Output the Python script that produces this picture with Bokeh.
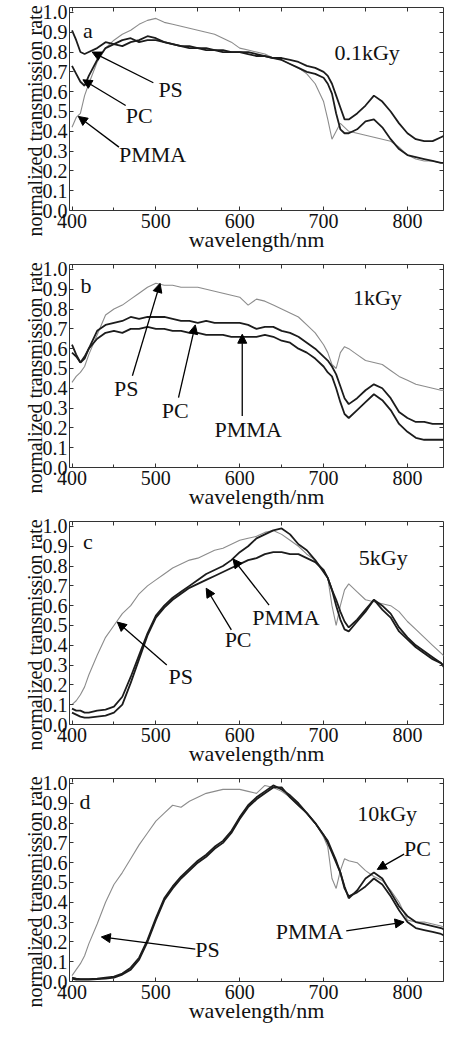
from bokeh.plotting import figure
from bokeh.layouts import column
from bokeh.models import Range1d, FixedTicker, LinearAxis, Arrow, NormalHead, Label, Title, PrintfTickFormatter
from bokeh.embed import file_html
from bokeh.resources import INLINE

# ---------------- data ----------------
wavelength = [400, 405, 410, 415, 420, 430, 440, 450, 460, 470, 480, 490, 500, 510, 520, 530,
              540, 550, 560, 570, 580, 590, 600, 610, 620, 630, 640, 650, 660, 670, 680, 690,
              700, 705, 710, 715, 720, 725, 730, 740, 750, 760, 770, 780, 790, 800, 810, 820,
              830, 840, 845]

# panel a: 0.1 kGy
a_PS = [0.91, 0.86, 0.80, 0.79, 0.80, 0.82, 0.85, 0.84, 0.86, 0.87, 0.85, 0.86, 0.86, 0.85, 0.84, 0.83,
        0.82, 0.82, 0.81, 0.81, 0.80, 0.80, 0.80, 0.80, 0.79, 0.78, 0.77, 0.77, 0.76, 0.75, 0.73, 0.72,
        0.70, 0.68, 0.64, 0.58, 0.52, 0.46, 0.46, 0.49, 0.53, 0.58, 0.55, 0.50, 0.44, 0.39, 0.36, 0.35,
        0.35, 0.37, 0.38]
a_PC = [0.73, 0.69, 0.65, 0.63, 0.68, 0.76, 0.82, 0.84, 0.83, 0.85, 0.86, 0.88, 0.87, 0.85, 0.84, 0.83,
        0.83, 0.82, 0.82, 0.81, 0.81, 0.80, 0.80, 0.79, 0.78, 0.78, 0.77, 0.76, 0.74, 0.72, 0.70, 0.69,
        0.67, 0.64, 0.59, 0.49, 0.41, 0.39, 0.39, 0.41, 0.45, 0.46, 0.42, 0.36, 0.31, 0.28, 0.27, 0.26,
        0.25, 0.24, 0.24]
a_PMMA = [0.42, 0.47, 0.49, 0.58, 0.64, 0.75, 0.82, 0.86, 0.89, 0.91, 0.94, 0.96, 0.97, 0.95, 0.94, 0.93,
          0.92, 0.91, 0.90, 0.89, 0.87, 0.85, 0.82, 0.81, 0.80, 0.79, 0.77, 0.76, 0.74, 0.72, 0.69, 0.64,
          0.55, 0.46, 0.36, 0.40, 0.44, 0.42, 0.40, 0.39, 0.38, 0.37, 0.36, 0.35, 0.32, 0.28, 0.26, 0.25,
          0.25, 0.24, 0.24]

# panel b: 1 kGy
b_PS = [0.43, 0.46, 0.48, 0.51, 0.57, 0.67, 0.77, 0.80, 0.82, 0.85, 0.88, 0.91, 0.93, 0.92, 0.92, 0.91,
        0.91, 0.91, 0.90, 0.89, 0.88, 0.87, 0.86, 0.82, 0.85, 0.84, 0.82, 0.80, 0.78, 0.76, 0.72, 0.68,
        0.62, 0.58, 0.52, 0.50, 0.58, 0.61, 0.60, 0.57, 0.54, 0.53, 0.52, 0.49, 0.46, 0.44, 0.42, 0.41,
        0.40, 0.39, 0.39]
b_PC = [0.62, 0.57, 0.53, 0.55, 0.60, 0.69, 0.72, 0.73, 0.74, 0.76, 0.75, 0.76, 0.76, 0.76, 0.75, 0.74,
        0.74, 0.73, 0.74, 0.73, 0.73, 0.73, 0.73, 0.72, 0.70, 0.71, 0.71, 0.69, 0.68, 0.66, 0.63, 0.60,
        0.56, 0.54, 0.51, 0.47, 0.41, 0.35, 0.32, 0.35, 0.39, 0.42, 0.40, 0.35, 0.28, 0.25, 0.23, 0.23,
        0.22, 0.22, 0.22]
b_PMMA = [0.58, 0.56, 0.53, 0.56, 0.60, 0.65, 0.68, 0.69, 0.68, 0.70, 0.70, 0.71, 0.70, 0.70, 0.69, 0.69,
          0.68, 0.68, 0.67, 0.67, 0.67, 0.66, 0.66, 0.66, 0.66, 0.67, 0.66, 0.64, 0.63, 0.60, 0.58, 0.55,
          0.51, 0.48, 0.46, 0.40, 0.33, 0.27, 0.25, 0.29, 0.33, 0.37, 0.34, 0.29, 0.22, 0.18, 0.15, 0.14,
          0.14, 0.14, 0.14]

# panel c: 5 kGy
c_PS = [0.10, 0.12, 0.15, 0.19, 0.25, 0.35, 0.44, 0.50, 0.56, 0.60, 0.66, 0.70, 0.73, 0.76, 0.79, 0.81,
        0.83, 0.84, 0.86, 0.88, 0.89, 0.91, 0.93, 0.94, 0.95, 0.97, 0.98, 0.96, 0.93, 0.90, 0.86, 0.83,
        0.78, 0.74, 0.60, 0.50, 0.60, 0.68, 0.71, 0.67, 0.63, 0.62, 0.61, 0.60, 0.57, 0.52, 0.48, 0.44,
        0.40, 0.36, 0.34]
c_PC = [0.06, 0.05, 0.04, 0.035, 0.035, 0.04, 0.045, 0.06, 0.10, 0.21, 0.33, 0.45, 0.54, 0.59, 0.63, 0.66,
        0.69, 0.71, 0.73, 0.75, 0.77, 0.79, 0.81, 0.83, 0.84, 0.86, 0.87, 0.87, 0.86, 0.86, 0.84, 0.82,
        0.78, 0.74, 0.68, 0.60, 0.53, 0.48, 0.47, 0.52, 0.57, 0.63, 0.58, 0.54, 0.47, 0.43, 0.39, 0.36,
        0.33, 0.31, 0.29]
c_PMMA = [0.08, 0.07, 0.07, 0.06, 0.06, 0.07, 0.075, 0.09, 0.14, 0.24, 0.35, 0.46, 0.55, 0.60, 0.64, 0.67,
          0.70, 0.73, 0.76, 0.78, 0.80, 0.83, 0.87, 0.90, 0.94, 0.96, 0.98, 0.99, 0.96, 0.91, 0.88, 0.83,
          0.77, 0.74, 0.68, 0.63, 0.57, 0.52, 0.49, 0.53, 0.58, 0.63, 0.60, 0.56, 0.49, 0.44, 0.40, 0.37,
          0.34, 0.31, 0.28]

# panel d: 10 kGy
d_PS = [0.03, 0.06, 0.09, 0.13, 0.19, 0.29, 0.40, 0.49, 0.55, 0.62, 0.69, 0.75, 0.81, 0.85, 0.89, 0.88,
        0.91, 0.93, 0.95, 0.96, 0.97, 0.97, 0.97, 0.96, 0.95, 0.99, 0.98, 0.96, 0.93, 0.89, 0.85, 0.80,
        0.73, 0.68, 0.52, 0.47, 0.56, 0.62, 0.61, 0.60, 0.56, 0.53, 0.51, 0.46, 0.40, 0.31, 0.30, 0.30,
        0.29, 0.28, 0.27]
d_PC = [0.015, 0.01, 0.01, 0.01, 0.01, 0.012, 0.015, 0.02, 0.035, 0.06, 0.11, 0.20, 0.31, 0.41, 0.47, 0.52,
        0.56, 0.60, 0.63, 0.67, 0.70, 0.75, 0.82, 0.88, 0.92, 0.95, 0.98, 0.98, 0.93, 0.89, 0.85, 0.80,
        0.74, 0.70, 0.65, 0.60, 0.55, 0.48, 0.42, 0.46, 0.52, 0.55, 0.52, 0.45, 0.38, 0.33, 0.30, 0.29,
        0.28, 0.27, 0.26]
d_PMMA = [0.02, 0.015, 0.012, 0.012, 0.012, 0.015, 0.02, 0.025, 0.04, 0.07, 0.12, 0.21, 0.32, 0.42, 0.48, 0.53,
          0.57, 0.61, 0.64, 0.68, 0.71, 0.76, 0.83, 0.89, 0.93, 0.96, 0.99, 0.97, 0.94, 0.90, 0.85, 0.80,
          0.74, 0.71, 0.66, 0.61, 0.55, 0.47, 0.43, 0.45, 0.48, 0.52, 0.49, 0.43, 0.36, 0.30, 0.27, 0.26,
          0.25, 0.24, 0.23]

panel_letters = ["a", "b", "c", "d"]
doses = ["0.1kGy", "1kGy", "5kGy", "10kGy"]
series_names = ["PS", "PC", "PMMA"]
x_ticks = [400, 500, 600, 700, 800]
x_minor = [450, 550, 650, 750]
y_ticks = [0.0, 0.1, 0.2, 0.3, 0.4, 0.5, 0.6, 0.7, 0.8, 0.9, 1.0]
x_title = "wavelength/nm"
y_title = "normalized transmission rate"

panels = [
    {"PS": a_PS, "PC": a_PC, "PMMA": a_PMMA},
    {"PS": b_PS, "PC": b_PC, "PMMA": b_PMMA},
    {"PS": c_PS, "PC": c_PC, "PMMA": c_PMMA},
    {"PS": d_PS, "PC": d_PC, "PMMA": d_PMMA},
]

# ---------------- styling / annotation placement ----------------
FONT = "Liberation Serif"
thin_series = ["PMMA", "PS", "PS", "PS"]   # the thin grey trace of each panel

# label text position (left, middle) and arrow (start -> tip), in data units
annotations = [
    [("PS", 503, 0.61, (497, 0.645), (424, 0.80)),
     ("PC", 464, 0.48, (464, 0.53), (413, 0.66)),
     ("PMMA", 456, 0.285, (456, 0.32), (407.5, 0.475))],
    [("PS", 450, 0.40, (472, 0.463), (505, 0.93)),
     ("PC", 507, 0.288, (527, 0.353), (547, 0.72)),
     ("PMMA", 570, 0.194, (603, 0.26), (603, 0.673))],
    [("PS", 515, 0.244, (513, 0.30), (454, 0.517)),
     ("PC", 582, 0.428, (590, 0.478), (560, 0.688)),
     ("PMMA", 615, 0.54, (635, 0.603), (592, 0.836))],
    [("PS", 547, 0.163, (547, 0.163), (435, 0.225)),
     ("PC", 796, 0.674, (796, 0.643), (764, 0.566)),
     ("PMMA", 643, 0.251, (727, 0.256), (796, 0.30))],
]
letter_pos = [(413, 0.91), (410, 0.918), (413, 0.922), (409, 0.91)]
dose_pos = [(713, 0.80), (735, 0.857), (742, 0.841), (740, 0.848)]

TOP = 7
FRAME_H = 203
BOTTOM = 47

figs = []
for i, data in enumerate(panels):
    h = TOP + FRAME_H + BOTTOM
    p = figure(width=445, height=h, x_range=Range1d(397, 843), y_range=Range1d(0, 1.025),
               output_backend="svg", toolbar_location=None,
               min_border_left=69, min_border_right=2, min_border_top=TOP, min_border_bottom=BOTTOM)
    p.xgrid.visible = False
    p.ygrid.visible = False
    p.outline_line_color = "#333333"
    p.outline_line_width = 1
    p.background_fill_color = "white"

    # main axes
    xa = p.xaxis[0]
    xa.ticker = FixedTicker(ticks=x_ticks, minor_ticks=x_minor)
    xa.axis_label = x_title
    ya = p.yaxis[0]
    ya.ticker = FixedTicker(ticks=y_ticks)
    ya.formatter = PrintfTickFormatter(format="%.1f")
    for ax in (xa, ya):
        ax.axis_line_color = None
        ax.major_tick_in = 4
        ax.major_tick_out = 0
        ax.minor_tick_in = 3
        ax.minor_tick_out = 0
        ax.major_tick_line_color = "#333333"
        ax.minor_tick_line_color = "#333333"
        ax.major_label_text_font = FONT
        ax.major_label_text_font_size = "20px"
        ax.major_label_text_color = "#111111"
    xa.axis_label_text_font = FONT
    xa.axis_label_text_font_size = "22px"
    xa.axis_label_text_font_style = "normal"
    xa.axis_label_text_color = "#111111"
    xa.major_label_standoff = 3
    xa.axis_label_standoff = -4
    ya.major_label_standoff = 2

    # y title as a side title, bottom-anchored and pushed below the frame bottom
    p.add_layout(Title(text=y_title, align="left", offset=-26, standoff=-12,
                       text_font=FONT, text_font_size="20px", text_font_style="normal",
                       text_color="#111111"), "left")

    # tick marks on the opposite sides (minor-only tickers: no labels)
    top_ax = LinearAxis(ticker=FixedTicker(ticks=[], minor_ticks=x_ticks + x_minor),
                        major_label_standoff=0, axis_line_color=None,
                        major_tick_in=0, major_tick_out=0, minor_tick_in=4, minor_tick_out=0,
                        minor_tick_line_color="#333333")
    right_ax = LinearAxis(ticker=FixedTicker(ticks=[], minor_ticks=y_ticks),
                          major_label_standoff=0, axis_line_color=None,
                          major_tick_in=0, major_tick_out=0, minor_tick_in=4, minor_tick_out=0,
                          minor_tick_line_color="#333333")
    p.add_layout(top_ax, "above")
    p.add_layout(right_ax, "right")

    # curves: thin grey first, then black traces
    for name in series_names:
        if name == thin_series[i]:
            p.line(wavelength, data[name], line_color="#8c8c8c", line_width=1.1)
    for name in series_names:
        if name != thin_series[i]:
            p.line(wavelength, data[name], line_color="#1c1c1c", line_width=1.8)

    # annotations
    for text, tx, ty, (sx, sy), (ex, ey) in annotations[i]:
        p.add_layout(Arrow(end=NormalHead(size=9, fill_color="black", line_color="black"),
                           x_start=sx, y_start=sy, x_end=ex, y_end=ey,
                           line_color="black", line_width=1.3))
        p.add_layout(Label(x=tx, y=ty, text=text, text_font=FONT, text_font_size="22px",
                           text_baseline="middle", text_align="left", text_color="#111111"))
    lx, ly = letter_pos[i]
    p.add_layout(Label(x=lx, y=ly, text=panel_letters[i], text_font=FONT, text_font_size="22px",
                       text_baseline="alphabetic", text_color="#111111"))
    dx, dy = dose_pos[i]
    p.add_layout(Label(x=dx, y=dy, text=doses[i], text_font=FONT, text_font_size="22px",
                       text_baseline="alphabetic", text_color="#111111"))
    figs.append(p)

layout = column(*figs, spacing=0)
open("out.html", "w").write(file_html(layout, INLINE))
